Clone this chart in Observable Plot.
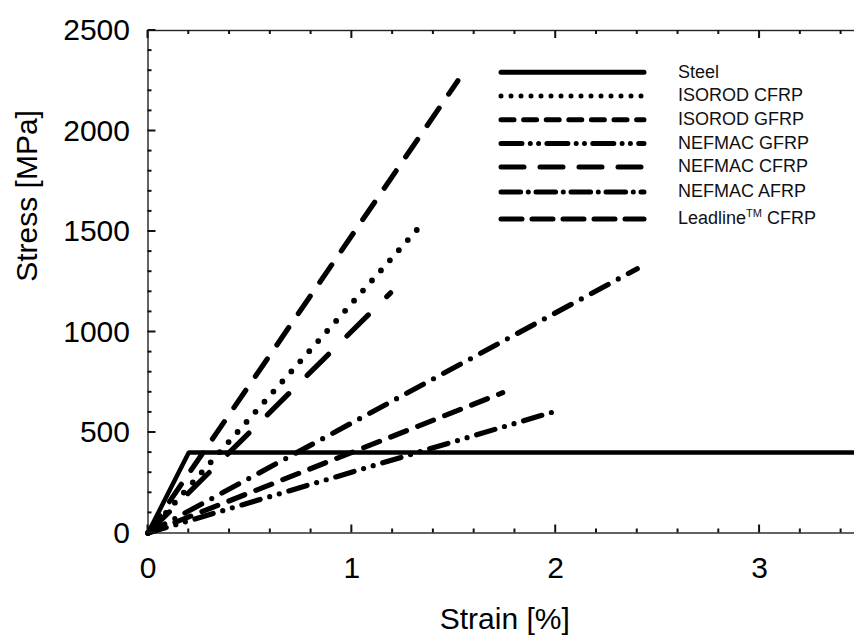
<!DOCTYPE html>
<html>
<head>
<meta charset="utf-8">
<script src="https://cdn.jsdelivr.net/npm/d3@7"></script>
<script src="https://cdn.jsdelivr.net/npm/@observablehq/plot@0.6"></script>
<style>
  html, body { margin: 0; padding: 0; background: white; overflow: hidden; }
  #chart { width: 854px; height: 635px; overflow: hidden; }
</style>
</head>
<body>
<div id="chart"></div>
<script>
// ---- data ----
const steelName = "Steel";
const steelStrain = [0, 0.2, 3.5];      // %
const steelStress = [0, 400, 400];      // MPa

const frpNames  = ["ISOROD CFRP", "ISOROD GFRP", "NEFMAC GFRP", "NEFMAC CFRP", "NEFMAC AFRP", "Leadline CFRP"];
const frpStrain = [1.36, 1.74, 1.98, 1.19, 2.40, 1.52];   // ultimate strain, %
const frpStress = [1555, 698, 600, 1195, 1315, 2250];     // ultimate stress, MPa

const legendNames = ["Steel", "ISOROD CFRP", "ISOROD GFRP", "NEFMAC GFRP", "NEFMAC CFRP", "NEFMAC AFRP", "Leadline CFRP"];

const xTicks = [0, 1, 2, 3];
const yTicks = [0, 500, 1000, 1500, 2000, 2500];
const xMinorStep = 0.2;
const yMinorStep = 100;

// ---- styles ----
const plotDash = {
  "Steel": null,
  "ISOROD CFRP": "0 13.5",
  "ISOROD GFRP": "17 12",
  "NEFMAC GFRP": "19 10 0 10 0 10",
  "NEFMAC CFRP": "30 26",
  "NEFMAC AFRP": "19 11.5 0 11.5",
  "Leadline CFRP": "21 17"
};
const legendDash = {
  "Steel": null,
  "ISOROD CFRP": "0 10",
  "ISOROD GFRP": "13 9.6",
  "NEFMAC GFRP": "21 8.3 0 8.3 0 8.3",
  "NEFMAC CFRP": "23 16",
  "NEFMAC AFRP": "19.6 7.7 0 7.7",
  "Leadline CFRP": "21 10"
};

// ---- layout ----
const W = 861, H = 635;
const mL = 147.5, mR = 0, mT = 30, mB = 102.5;

// ---- derived tables ----
const steelData = steelStrain.map((s, i) => ({strain: s, stress: steelStress[i]}));
const frpData = frpNames.map((n, i) => ({
  name: n,
  points: [{strain: 0, stress: 0}, {strain: frpStrain[i], stress: frpStress[i]}]
}));

const xMax = 3.5;
const xMinor = d3.range(xMinorStep, xMax + 1e-9, xMinorStep).map(v => +v.toFixed(2)).filter(v => !xTicks.includes(v));
const yMinor = d3.range(yMinorStep, 2500, yMinorStep).filter(v => !yTicks.includes(v));
const xTickRows = [...xTicks.map(v => ({v, len: 8})), ...xMinor.map(v => ({v, len: 4}))];
const yTickRows = [...yTicks.map(v => ({v, len: 8})), ...yMinor.map(v => ({v, len: 4}))];

const marks = [];
// frame
marks.push(Plot.frame({stroke: "#222", strokeWidth: 1.4}));
// tick labels
marks.push(Plot.text(xTicks, {x: d => d, frameAnchor: "bottom", dy: 35, text: d => String(d), fontSize: 30, lineAnchor: "middle", fill: "black"}));
marks.push(Plot.text(yTicks, {y: d => d, frameAnchor: "left", dx: -18, text: d => String(d), fontSize: 30, textAnchor: "end", lineAnchor: "middle", fill: "black"}));
// axis titles
marks.push(Plot.text(["Strain [%]"], {frameAnchor: "bottom", dy: 86, text: d => d, fontSize: 30, lineAnchor: "middle", fill: "black"}));
marks.push(Plot.text(["Stress [MPa]"], {frameAnchor: "left", dx: -120.5, rotate: -90, text: d => d, fontSize: 30, lineAnchor: "middle", fill: "black"}));

// FRP lines
for (const s of frpData) {
  marks.push(Plot.line(s.points, {
    x: "strain", y: "stress", stroke: "black",
    strokeWidth: s.name === "ISOROD CFRP" ? 5.8 : 5.2,
    strokeDasharray: plotDash[s.name], strokeLinecap: "round", strokeLinejoin: "round"
  }));
}
// steel
marks.push(Plot.line(steelData, {x: "strain", y: "stress", stroke: "black", strokeWidth: 4.5, strokeLinejoin: "miter"}));

const chart = Plot.plot({
  width: W,
  height: H,
  marginLeft: mL,
  marginRight: mR,
  marginTop: mT,
  marginBottom: mB,
  x: {domain: [0, xMax], axis: null},
  y: {domain: [0, 2500], axis: null},
  style: {
    fontFamily: "'Liberation Sans', Arial, sans-serif",
    fontSize: "30px",
    background: "white",
    color: "black",
    maxWidth: "none",
    overflow: "hidden"
  },
  marks
});

const svgSel = d3.select(chart);

// ---- inward ticks, positioned through Plot's own scales ----
const sx = chart.scale("x"), sy = chart.scale("y");
const frameTop = mT, frameBottom = H - mB, frameLeft = mL;
const tg = svgSel.append("g");
for (const r of xTickRows) {
  const px = sx.apply(r.v);
  for (const [y1, y2] of [[frameBottom, frameBottom - r.len], [frameTop, frameTop + r.len]]) {
    tg.append("path").attr("d", `M${px},${y1}L${px},${y2}`)
      .attr("stroke", "#111").attr("stroke-width", 2).attr("fill", "none");
  }
}
for (const r of yTickRows) {
  const py = sy.apply(r.v);
  tg.append("path").attr("d", `M${frameLeft},${py}L${frameLeft + r.len},${py}`)
    .attr("stroke", "#111").attr("stroke-width", 2).attr("fill", "none");
}

// ---- legend (inside the svg) ----
const lg = svgSel.append("g").attr("class", "legend").attr("text-anchor", "start");
const rowY = [72.3, 95.9, 119.8, 143.4, 167, 192, 218.9];
const lx1 = 501, lx2 = 644, tx = 678;
legendNames.forEach((name, i) => {
  const y = rowY[i];
  const dash = legendDash[name];
  const ln = lg.append("line")
    .attr("x1", lx1).attr("x2", lx2).attr("y1", y).attr("y2", y)
    .attr("stroke", "black").attr("stroke-width", 5)
    .attr("stroke-linecap", "round");
  if (dash) ln.attr("stroke-dasharray", dash);
  const t = lg.append("text")
    .attr("x", tx).attr("y", y - 1)
    .attr("dy", "0.35em")
    .attr("text-anchor", "start")
    .attr("font-size", 18)
    .attr("fill", "#111");
  if (name === "Leadline CFRP") {
    t.append("tspan").text("Leadline");
    t.append("tspan").attr("font-size", 11).attr("dy", -7).text("TM");
    t.append("tspan").attr("dy", 7).text(" CFRP");
  } else {
    t.text(name);
  }
});

document.getElementById("chart").appendChild(chart);
</script>
</body>
</html>
